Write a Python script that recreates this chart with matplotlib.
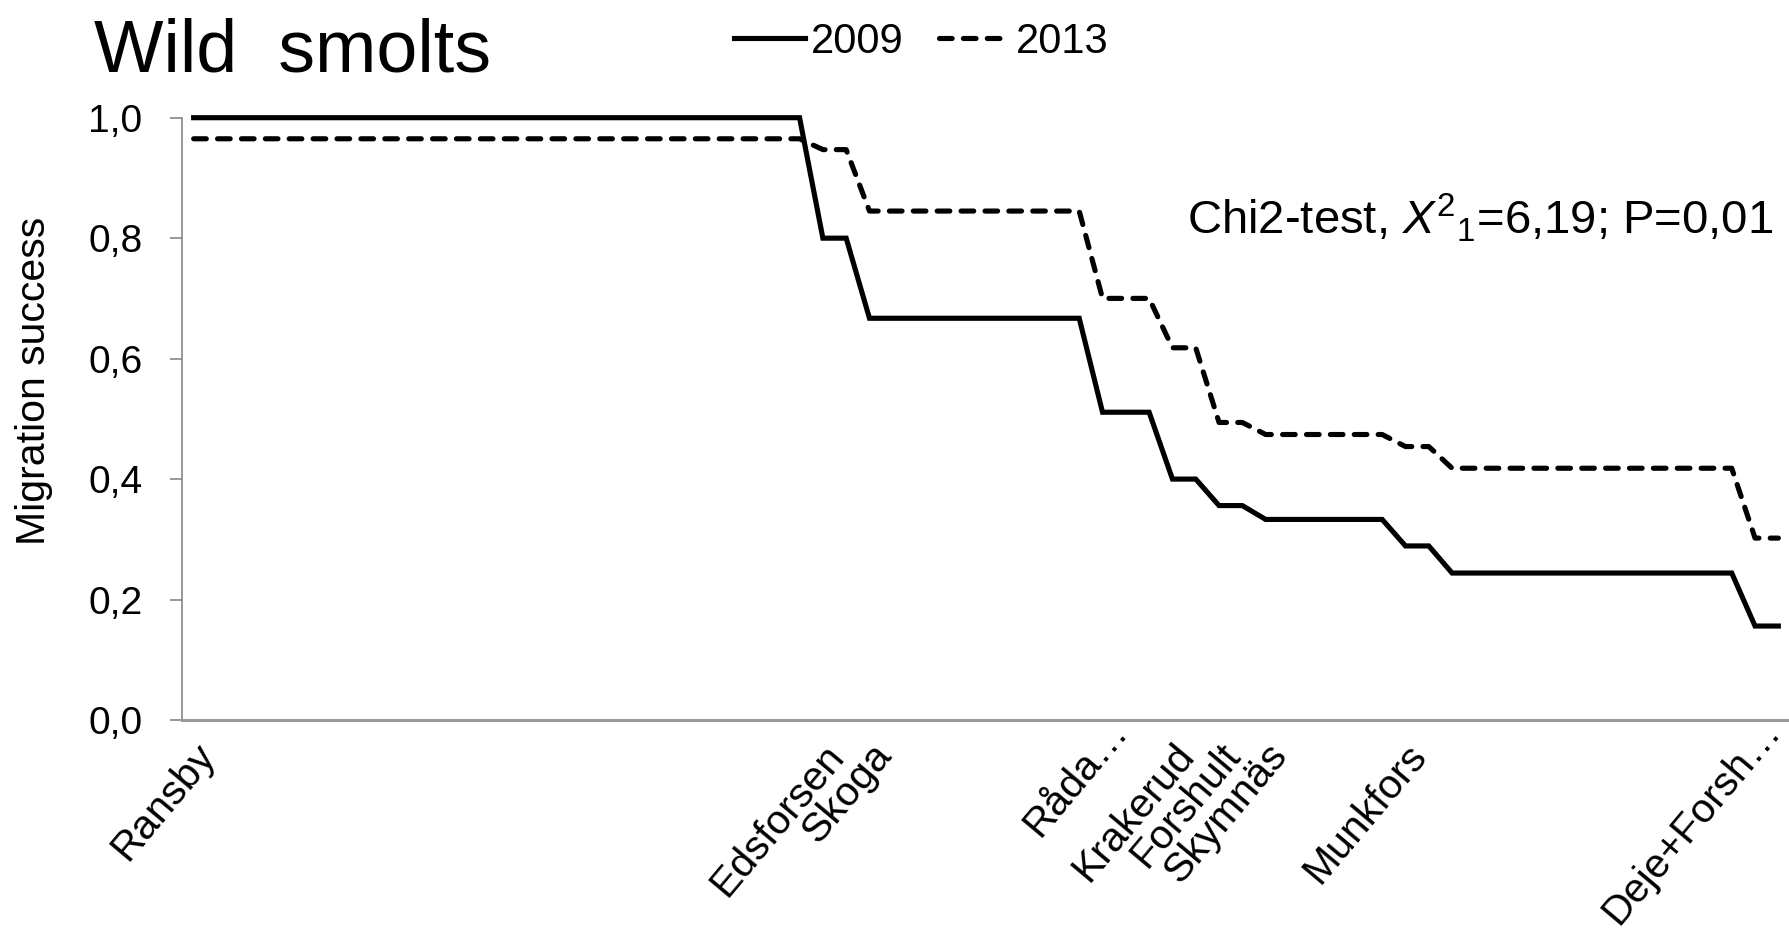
import matplotlib
matplotlib.use('Agg')
import matplotlib.pyplot as plt
import matplotlib.transforms as mtransforms

plt.rcParams['font.family'] = ['Liberation Sans', 'DejaVu Sans']
plt.rcParams['mathtext.fontset'] = 'custom'
plt.rcParams['mathtext.rm'] = 'Liberation Sans'
plt.rcParams['mathtext.it'] = 'Liberation Sans:italic'
plt.rcParams['lines.scale_dashes'] = False

# migration success per station (69 categories along the river)
success_2009 = [1.0, 1.0, 1.0, 1.0, 1.0, 1.0, 1.0, 1.0, 1.0, 1.0,
                1.0, 1.0, 1.0, 1.0, 1.0, 1.0, 1.0, 1.0, 1.0, 1.0,
                1.0, 1.0, 1.0, 1.0, 1.0, 1.0, 1.0, 0.80, 0.80, 0.667,
                0.667, 0.667, 0.667, 0.667, 0.667, 0.667, 0.667, 0.667, 0.667, 0.511,
                0.511, 0.511, 0.400, 0.400, 0.356, 0.356, 0.333, 0.333, 0.333, 0.333,
                0.333, 0.333, 0.289, 0.289, 0.244, 0.244, 0.244, 0.244, 0.244, 0.244,
                0.244, 0.244, 0.244, 0.244, 0.244, 0.244, 0.244, 0.156, 0.156]
success_2013 = [0.965, 0.965, 0.965, 0.965, 0.965, 0.965, 0.965, 0.965, 0.965, 0.965,
                0.965, 0.965, 0.965, 0.965, 0.965, 0.965, 0.965, 0.965, 0.965, 0.965,
                0.965, 0.965, 0.965, 0.965, 0.965, 0.965, 0.965, 0.947, 0.947, 0.845,
                0.845, 0.845, 0.845, 0.845, 0.845, 0.845, 0.845, 0.845, 0.845, 0.700,
                0.700, 0.700, 0.618, 0.618, 0.494, 0.494, 0.474, 0.474, 0.474, 0.474,
                0.474, 0.474, 0.454, 0.454, 0.418, 0.418, 0.418, 0.418, 0.418, 0.418,
                0.418, 0.418, 0.418, 0.418, 0.418, 0.418, 0.418, 0.302, 0.302]

station_pos = [0, 27, 29, 39, 42, 44, 46, 52, 67]
station_names = ['Ransby', 'Edsforsen', 'Skoga', 'Råda…', 'Krakerud',
                 'Forshult', 'Skymnäs', 'Munkfors', 'Deje+Forsh…']

y_ticks = [0.0, 0.2, 0.4, 0.6, 0.8, 1.0]

fig = plt.figure(figsize=(17.9, 9.38), dpi=100)
ax = fig.add_axes([182 / 1790, 1 - 720 / 938, 1 - 182 / 1790, (720 - 117.7) / 938])

x = range(len(success_2009))
ax.plot(x, success_2009, color='black', lw=3.7, solid_joinstyle='miter',
        label='2009', clip_on=False)
ax.plot(x, success_2013, color='black', lw=3.7, dashes=(9.1, 8.1),
        dash_capstyle='round', dash_joinstyle='round', label='2013', clip_on=False)

ax.set_xlim(-0.5, len(success_2009) - 0.5)
ax.set_ylim(0, 1)

ax.set_yticks(y_ticks)
ax.set_yticklabels([f'{v:.1f}'.replace('.', ',') for v in y_ticks], fontsize=28)
ax.tick_params(axis='y', direction='out', length=8.6, width=1.2, color='#868686', pad=20)

ax.set_xticks(station_pos)
ax.set_xticklabels(station_names, fontsize=29.5, rotation=50, ha='right',
                   rotation_mode='anchor')
ax.tick_params(axis='x', length=0, pad=12)

# truncated labels sit a little higher, like the spreadsheet does
shift = mtransforms.ScaledTranslation(0.04, 0.25, fig.dpi_scale_trans)
for lab in ax.get_xticklabels():
    if lab.get_text().endswith('…'):
        lab.set_transform(lab.get_transform() + shift)

for side in ['top', 'right']:
    ax.spines[side].set_visible(False)
ax.spines['left'].set_color('#868686')
ax.spines['left'].set_linewidth(1.2)
ax.spines['bottom'].set_color('#9a9a9a')
ax.spines['bottom'].set_linewidth(2.2)

fig.text(94 / 1790, 1 - 71 / 938, 'Wild  smolts', fontsize=53, ha='left', va='baseline')
fig.text(34 / 1790, 1 - 381 / 938, 'Migration success', fontsize=29.5,
         rotation=90, ha='center', va='center')
fig.text(1187 / 1790, 1 - 234 / 938, r'Chi2-test, $X^{2}{}_{1}$=6,19; P=0,01',
         fontsize=34, ha='left', va='baseline')

ax.legend(loc='center left', bbox_to_anchor=(734 / 1790, 1 - 42 / 938),
          bbox_transform=fig.transFigure, ncol=2, frameon=False, fontsize=30,
          handlelength=1.7, handletextpad=0.15, columnspacing=0.85,
          borderpad=0, borderaxespad=0)

fig.savefig('out.png', dpi=100)
